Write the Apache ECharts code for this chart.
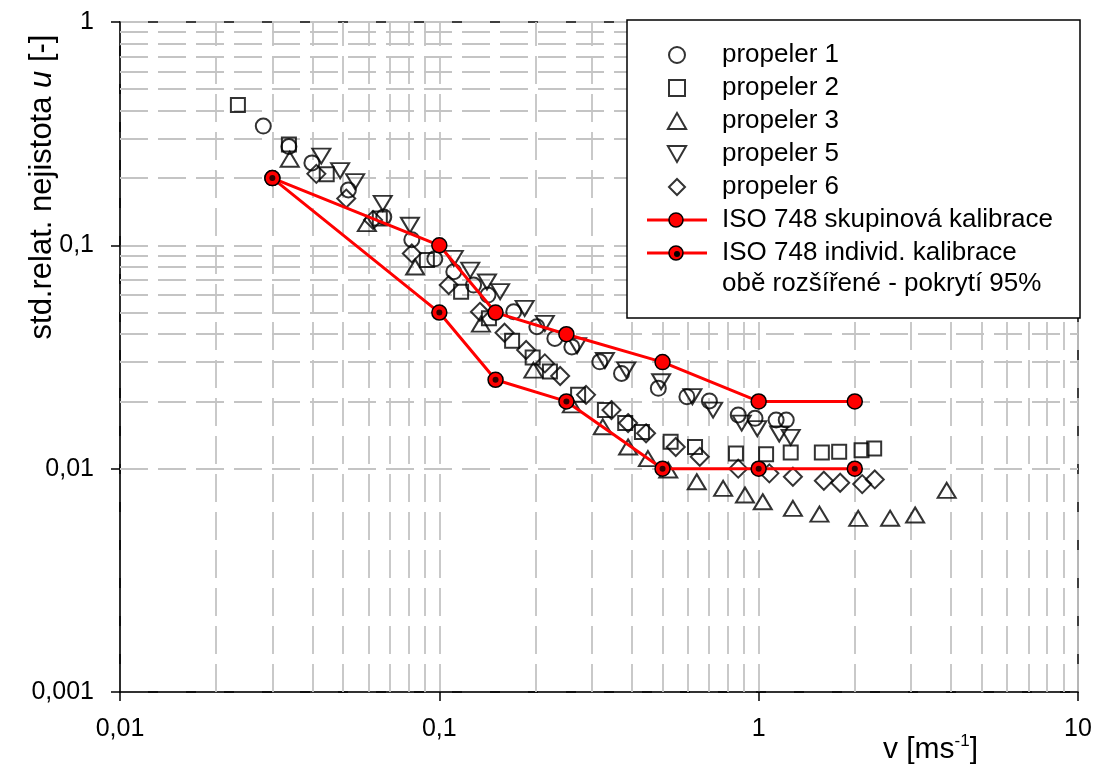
<!DOCTYPE html>
<html>
<head>
<meta charset="utf-8">
<script src="https://cdn.jsdelivr.net/npm/echarts@6/dist/echarts.min.js"></script>
<style>
  html, body { margin: 0; padding: 0; background: #fff; }
  #chart { width: 1098px; height: 769px; }
</style>
</head>
<body>
<div id="chart"></div>
<script>
// Measured relative standard uncertainty u [-] against flow velocity v [m/s]
const propeler1 = [
  [0.0281, 0.342], [0.0338, 0.277], [0.0399, 0.234], [0.0519, 0.177], [0.067, 0.134],
  [0.082, 0.106], [0.0968, 0.087], [0.111, 0.0762], [0.128, 0.0664], [0.142, 0.0599],
  [0.171, 0.0504], [0.202, 0.0432], [0.230, 0.0383], [0.260, 0.0351], [0.318, 0.0301],
  [0.372, 0.0267], [0.485, 0.0229], [0.596, 0.021], [0.701, 0.0201], [0.863, 0.0174],
  [0.974, 0.0168], [1.134, 0.0165], [1.22, 0.0165]
];
const propeler2 = [
  [0.0234, 0.425], [0.0338, 0.283], [0.0444, 0.208], [0.0651, 0.132], [0.0914, 0.086],
  [0.117, 0.062], [0.143, 0.0471], [0.169, 0.0374], [0.196, 0.0315], [0.222, 0.0272],
  [0.272, 0.0214], [0.330, 0.0183], [0.382, 0.016], [0.431, 0.0146], [0.53, 0.0132],
  [0.632, 0.0125], [0.849, 0.0117], [1.055, 0.0116], [1.26, 0.0118], [1.577, 0.0118],
  [1.787, 0.0119], [2.10, 0.0121], [2.30, 0.0123]
];
const propeler3 = [
  [0.034, 0.243], [0.0593, 0.125], [0.084, 0.080], [0.135, 0.0444], [0.197, 0.0276],
  [0.26, 0.0193], [0.325, 0.0154], [0.39, 0.0125], [0.45, 0.0111], [0.521, 0.00986],
  [0.64, 0.00874], [0.774, 0.00816], [0.906, 0.00762], [1.03, 0.00711], [1.28, 0.00664],
  [1.55, 0.00626], [2.05, 0.00599], [2.58, 0.006], [3.09, 0.0062], [3.88, 0.008]
];
const propeler5 = [
  [0.0427, 0.251], [0.0489, 0.216], [0.0545, 0.193], [0.0665, 0.154], [0.0809, 0.123],
  [0.111, 0.0874], [0.125, 0.0775], [0.141, 0.0685], [0.155, 0.062], [0.185, 0.0522],
  [0.214, 0.0447], [0.270, 0.0355], [0.33, 0.0305], [0.385, 0.0277], [0.495, 0.0245],
  [0.62, 0.021], [0.72, 0.0183], [0.885, 0.016], [0.99, 0.0151], [1.16, 0.0143],
  [1.26, 0.0138]
];
const propeler6 = [
  [0.0412, 0.209], [0.0511, 0.162], [0.062, 0.130], [0.082, 0.092], [0.107, 0.0664],
  [0.134, 0.0504], [0.160, 0.0406], [0.187, 0.034], [0.214, 0.0296], [0.239, 0.026],
  [0.288, 0.0214], [0.346, 0.0183], [0.39, 0.016], [0.444, 0.0144], [0.55, 0.0125],
  [0.654, 0.0113], [0.863, 0.0100], [1.08, 0.00953], [1.28, 0.0092], [1.60, 0.00883],
  [1.80, 0.00865], [2.11, 0.00853], [2.31, 0.00895]
];
// ISO 748 expanded uncertainty limits (95 % coverage)
const isoVelocity   = [0.03, 0.1, 0.15, 0.25, 0.5, 1, 2];
const isoSkupinova  = [0.2, 0.1, 0.05, 0.04, 0.03, 0.02, 0.02];
const isoIndivid    = [0.2, 0.05, 0.025, 0.02, 0.01, 0.01, 0.01];

// Axis ticks
const xTickValues = [0.01, 0.1, 1, 10];
const xTickLabels = ['0,01', '0,1', '1', '10'];
const yTickValues = [0.001, 0.01, 0.1, 1];
const yTickLabels = ['0,001', '0,01', '0,1', '1'];
const gridDecadesX = [0.01, 0.1, 1];
const gridDecadesY = [0.001, 0.01, 0.1];
const gridMultipliers = [2, 3, 4, 5, 6, 7, 8, 9];

const names = {
  p1: 'propeler 1', p2: 'propeler 2', p3: 'propeler 3', p5: 'propeler 5', p6: 'propeler 6',
  skup: 'ISO 748 skupinová kalibrace', indiv: 'ISO 748 individ. kalibrace'
};

const FONT = '"Liberation Sans", Arial, sans-serif';
const GRID_COLOR = '#c4c4c4';
const DASH = [28, 10];

function tickLabel(values, labels) {
  return function (v) {
    let best = 0;
    for (let i = 1; i < values.length; i++) {
      if (Math.abs(Math.log10(values[i]) - Math.log10(v)) < Math.abs(Math.log10(values[best]) - Math.log10(v))) best = i;
    }
    return labels[best];
  };
}

// Minor gridlines (2..9 within each decade) as dashed mark lines
const minorLines = [];
gridDecadesX.forEach(d => gridMultipliers.forEach(m => minorLines.push({ xAxis: +(d * m).toPrecision(3) })));
gridDecadesY.forEach(d => gridMultipliers.forEach(m => minorLines.push({ yAxis: +(d * m).toPrecision(3) })));

const pair = (xs, ys) => xs.map((x, i) => [x, ys[i]]);

function svgIcon(withDot) {
  const svg = "<svg xmlns='http://www.w3.org/2000/svg' width='60' height='16' viewBox='0 0 60 16'>" +
    "<line x1='0' y1='8' x2='60' y2='8' stroke='#ff0000' stroke-width='3'/>" +
    "<circle cx='29' cy='8' r='7' fill='#ff0000' stroke='#000' stroke-width='1.5'/>" +
    (withDot ? "<circle cx='30' cy='9' r='3' fill='#000'/>" : '') + "</svg>";
  return 'image://data:image/svg+xml;charset=utf-8,' + encodeURIComponent(svg);
}

const openStyle = { color: 'transparent', borderColor: '#000', borderWidth: 2 };

const chart = echarts.init(document.getElementById('chart'), null, { renderer: 'canvas' });
chart.setOption({
  animation: false,
  backgroundColor: '#fff',
  textStyle: { fontFamily: FONT },
  grid: {
    left: 120, right: 20, top: 22, bottom: 77,
    containLabel: false, outerBoundsMode: 'none',
    show: true, borderColor: '#000', borderWidth: 1.5, backgroundColor: 'transparent'
  },
  xAxis: {
    type: 'log', logBase: 10, min: 0.01, max: 10,
    name: 'v [ms{sup|-1}]',
    nameLocation: 'end', nameGap: -100, nameMoveOverlap: false,
    nameTextStyle: {
      fontFamily: FONT, fontSize: 30, color: '#000', align: 'right', verticalAlign: 'top',
      lineHeight: 34, padding: [41, 0, 0, 0],
      rich: { sup: { fontFamily: FONT, fontSize: 17, verticalAlign: 'top', lineHeight: 34 } }
    },
    axisLine: { show: true, lineStyle: { color: '#000', width: 1.5 } },
    axisTick: { show: true, length: 9, lineStyle: { color: '#000', width: 1.5 } },
    axisLabel: { fontFamily: FONT, fontSize: 25, color: '#000', margin: 25, formatter: tickLabel(xTickValues, xTickLabels) },
    splitLine: { show: true, lineStyle: { color: GRID_COLOR, width: 1.8, type: DASH, dashOffset: 4 } },
    minorTick: { show: false }, minorSplitLine: { show: false }
  },
  yAxis: {
    type: 'log', logBase: 10, min: 0.001, max: 1,
    name: 'std.relat. nejistota {i|u} [-]',
    nameLocation: 'middle', nameGap: 62, nameMoveOverlap: false,
    nameTextStyle: {
      fontFamily: FONT, fontSize: 31, color: '#000', padding: [0, 0, 0, 340],
      rich: { i: { fontFamily: FONT, fontSize: 31, fontStyle: 'italic' } }
    },
    axisLine: { show: true, lineStyle: { color: '#000', width: 1.5 } },
    axisTick: { show: true, length: 9, lineStyle: { color: '#000', width: 1.5 } },
    axisLabel: { fontFamily: FONT, fontSize: 25, color: '#000', margin: 26, formatter: tickLabel(yTickValues, yTickLabels) },
    splitLine: { show: true, lineStyle: { color: GRID_COLOR, width: 1.8, type: DASH } },
    minorTick: { show: false }, minorSplitLine: { show: false }
  },
  legend: {
    orient: 'vertical', left: 647, top: 41, padding: 0,
    itemWidth: 60, itemHeight: 16, itemGap: 5,
    symbolRotate: 0,
    backgroundColor: 'transparent', borderWidth: 0,
    selectedMode: false, z: 6,
    itemStyle: { borderWidth: 2 },
    textStyle: { fontFamily: FONT, fontSize: 26, lineHeight: 28, color: '#000', padding: [0, 0, 0, 10] },
    data: [
      { name: names.p1, icon: 'path://M8,1A7,7 0 1,1 7.99,1Z' },
      { name: names.p2, icon: 'path://M0,0L14,0L14,14L0,14Z' },
      { name: names.p3, icon: 'path://M0,14L8,0L16,14Z' },
      { name: names.p5, icon: 'path://M0,0L16,0L8,14Z' },
      { name: names.p6, icon: 'path://M0,10L10,0L20,10L10,20Z' },
      { name: names.skup, icon: svgIcon(false) },
      { name: names.indiv, icon: svgIcon(true) }
    ]
  },
  graphic: [
    {
      type: 'rect', z: 5, silent: true,
      shape: { x: 627, y: 20, width: 453, height: 298 },
      style: { fill: '#fff', stroke: '#000', lineWidth: 1.5 }
    },
    {
      type: 'text', z: 6, silent: true, x: 722, y: 284,
      style: { text: 'obě rozšířené - pokrytí 95%', font: '26px ' + FONT, fill: '#000', verticalAlign: 'middle' }
    }
  ],
  series: [
    {
      name: 'grid', type: 'line', data: [], silent: true,
      markLine: {
        silent: true, z: 1, symbol: ['none', 'none'], label: { show: false },
        emphasis: { disabled: true },
        lineStyle: { color: GRID_COLOR, width: 1.8, type: DASH },
        data: minorLines
      }
    },
    { name: names.p1, type: 'scatter', data: propeler1, symbol: 'circle', symbolSize: 15, itemStyle: openStyle, z: 3 },
    { name: names.p2, type: 'scatter', data: propeler2, symbol: 'rect', symbolSize: 14, itemStyle: openStyle, z: 3 },
    { name: names.p3, type: 'scatter', data: propeler3, symbol: 'triangle', symbolSize: [18, 15], itemStyle: openStyle, z: 3 },
    { name: names.p5, type: 'scatter', data: propeler5, symbol: 'triangle', symbolRotate: 180, symbolSize: [18, 15], itemStyle: openStyle, z: 3 },
    { name: names.p6, type: 'scatter', data: propeler6, symbol: 'diamond', symbolSize: 18, itemStyle: openStyle, z: 3 },
    {
      name: names.skup, type: 'line', data: pair(isoVelocity, isoSkupinova), z: 4,
      symbol: 'circle', symbolSize: 15, showSymbol: true,
      lineStyle: { color: '#ff0000', width: 3 },
      itemStyle: { color: '#ff0000', borderColor: '#000', borderWidth: 1.5 }
    },
    {
      name: names.indiv, type: 'line', data: pair(isoVelocity, isoIndivid), z: 4,
      symbol: 'circle', symbolSize: 15, showSymbol: true,
      lineStyle: { color: '#ff0000', width: 3 },
      itemStyle: { color: '#ff0000', borderColor: '#000', borderWidth: 1.5 }
    },
    {
      name: names.indiv + ' (střed)', type: 'scatter', data: pair(isoVelocity, isoIndivid), z: 5,
      symbol: 'circle', symbolSize: 6, silent: true,
      itemStyle: { color: '#000' }
    }
  ]
});
</script>
</body>
</html>
